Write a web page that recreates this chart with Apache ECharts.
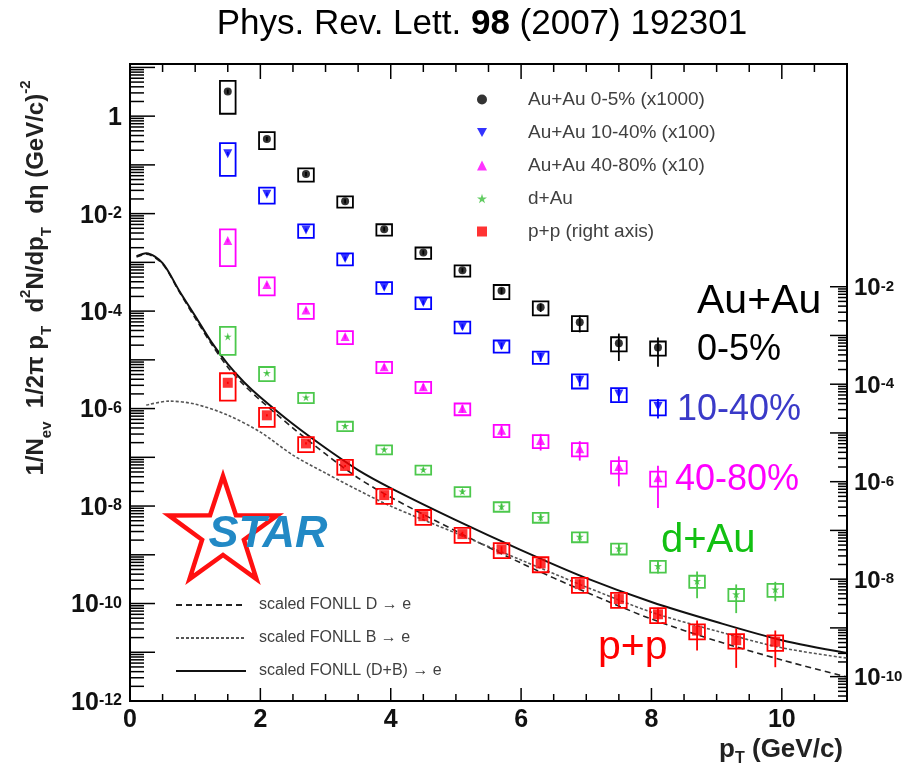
<!DOCTYPE html>
<html>
<head>
    <meta charset="UTF-8">
    <title>STAR non-photonic electron spectra</title>
    <script src="https://cdn.jsdelivr.net/npm/echarts@6.0.0/dist/echarts.min.js"></script>
    <style>
        body, html {
            margin: 0;
            padding: 0;
            background: #fff;
        }

        #chart {
            width: 909px;
            height: 770px;
        }
    </style>
</head>
<body>
<div id="chart"></div>
<script>
    // pT bin centres (GeV/c)
    var pt = [1.5, 2.1, 2.7, 3.3, 3.9, 4.5, 5.1, 5.7, 6.3, 6.9, 7.5, 8.1, 8.7, 9.3, 9.9];

    // left axis: Au+Au (scaled) and d+Au yields, with relative sys (box) and stat (bar) errors
    var auau0005 = [3.2, 0.34, 0.065, 0.018, 4.8e-3, 1.6e-3, 6.9e-4, 2.6e-4, 1.2e-4, 5.9e-5, 2.2e-5, 1.8e-5];
    var auau0005Sys = [0.65, 0.38, 0.3, 0.26, 0.26, 0.26, 0.26, 0.32, 0.32, 0.34, 0.32, 0.32];
    var auau0005Stat = [0.1, 0.1, 0.1, 0.1, 0.1, 0.1, 0.1, 0.15, 0.2, 0.38, 0.57, 0.6];

    var auau1040 = [0.17, 0.025, 4.6e-3, 1.2e-3, 3.1e-4, 1.5e-4, 4.8e-5, 1.95e-5, 1.15e-5, 3.8e-6, 2.0e-6, 1.1e-6];
    var auau1040Sys = [0.65, 0.36, 0.31, 0.28, 0.27, 0.27, 0.27, 0.28, 0.28, 0.32, 0.32, 0.34];
    var auau1040Stat = [0.08, 0.08, 0.08, 0.1, 0.1, 0.1, 0.12, 0.15, 0.2, 0.25, 0.3, 0.43];

    var auau4080 = [2.8e-3, 3.5e-4, 1.05e-4, 3.0e-5, 7.2e-6, 2.8e-6, 1.0e-6, 3.6e-7, 2.2e-7, 1.5e-7, 6.5e-8, 3.8e-8];
    var auau4080Sys = [0.7, 0.4, 0.34, 0.3, 0.26, 0.26, 0.27, 0.28, 0.3, 0.3, 0.29, 0.34];
    var auau4080Stat = [0.08, 0.08, 0.1, 0.1, 0.12, 0.15, 0.18, 0.25, 0.375, 0.43, 0.61, 0.76];

    var dau = [3.0e-5, 5.4e-6, 1.7e-6, 4.4e-7, 1.45e-7, 5.6e-8, 2.0e-8, 9.8e-9, 5.9e-9, 2.35e-9, 1.35e-9, 5.9e-10, 2.9e-10, 1.55e-10, 1.95e-10];
    var dauSys = [0.58, 0.32, 0.24, 0.22, 0.21, 0.21, 0.22, 0.22, 0.23, 0.23, 0.25, 0.27, 0.28, 0.28, 0.3];
    var dauStat = [0.05, 0.05, 0.05, 0.08, 0.08, 0.1, 0.12, 0.15, 0.18, 0.22, 0.25, 0.3, 0.56, 0.59, 0.43];

    // right axis: p+p
    var pp = [1.07e-4, 2.3e-5, 6.1e-6, 2.1e-6, 5.3e-7, 1.96e-7, 8.4e-8, 4.1e-8, 2.1e-8, 7.9e-9, 3.9e-9, 1.9e-9, 8.8e-10, 5.6e-10, 5.2e-10];
    var ppSys = [0.57, 0.42, 0.34, 0.34, 0.34, 0.34, 0.34, 0.34, 0.34, 0.34, 0.34, 0.34, 0.34, 0.33, 0.35];
    var ppStat = [0.05, 0.05, 0.05, 0.05, 0.1, 0.1, 0.12, 0.15, 0.2, 0.25, 0.3, 0.37, 0.61, 0.73, 0.7];

    // scaled FONLL curves (right axis)
    var fonllPt = [0.1, 0.25, 0.5, 0.75, 1.0, 1.25, 1.5, 1.75, 2.0, 2.5, 3.0, 3.5, 4.0, 5.0, 6.0, 7.0, 8.0, 9.0, 10.0, 11.0];
    var fonllDB = [0.0425, 0.0489, 0.0305, 8.5e-3, 2.5e-3, 7.3e-4, 2.58e-4, 1.1e-4, 5.4e-5, 1.52e-5, 4.9e-6, 1.73e-6, 7.4e-7, 1.63e-7, 3.95e-8, 1.05e-8, 3.4e-9, 1.32e-9, 5.6e-10, 3.05e-10];
    var fonllD = [0.0405, 0.0467, 0.0291, 8.1e-3, 2.27e-3, 6.65e-4, 2.24e-4, 9.6e-5, 4.7e-5, 1.26e-5, 3.7e-6, 1.19e-6, 4.8e-7, 9.7e-8, 2.14e-8, 5.4e-9, 1.52e-9, 5.4e-10, 2.2e-10, 9.8e-11];
    var fonllBPt = [0.25, 0.6, 1.0, 1.5, 2.0, 2.5, 3.0, 3.5, 4.0, 5.0, 6.0, 7.0, 8.0, 9.0, 10.0, 11.0];
    var fonllB = [3.72e-5, 4.5e-5, 3.9e-5, 2.32e-5, 1.04e-5, 3.5e-6, 1.5e-6, 6.7e-7, 3.15e-7, 8.8e-8, 2.47e-8, 6.9e-9, 2.1e-9, 8.6e-10, 3.9e-10, 2.4e-10];

    // axis labels
    var xLabels = [0, 2, 4, 6, 8, 10];
    var leftLabelExps = [-12, -10, -8, -6, -4, -2, 0];
    var rightLabelExps = [-10, -8, -6, -4, -2];

    var FONT = 'Liberation Sans, Arial, Helvetica, sans-serif';
    var xMin = 0, xMax = 11;
    var leftMin = 1e-12, leftMax = Math.pow(10, 1.07);
    var rightMin = Math.pow(10, -10.5), rightMax = Math.pow(10, 2.57);
    var boxHalf = 0.12;
    var starPath = 'path://M50,0 L61,35 L98,35 L68,57 L79,91 L50,70 L21,91 L32,57 L2,35 L39,35 Z';
    var downTri = 'path://M0,0 L20,0 L10,18 Z';

    var chart = echarts.init(document.getElementById('chart'), null, {renderer: 'canvas'});

    function pairs(xs, ys) {
        return ys.map(function (v, i) {
            return [xs[i], v];
        });
    }

    function powText(e) {
        return e === 0 ? '{b|1}' : '{b|10}{s|' + e + '}';
    }

    function powRich(size) {
        return {
            b: {fontSize: size, fontWeight: 'bold', fontFamily: FONT, fill: '#111', lineHeight: Math.round(size * 0.78)},
            s: {fontSize: Math.round(size * 0.64), fontWeight: 'bold', fontFamily: FONT, fill: '#111', verticalAlign: 'top', lineHeight: 11}
        };
    }

    function errorSeries(name, ys, sys, stat, color, yIndex) {
        var data = ys.map(function (v, i) {
            return [pt[i], v, sys[i], stat[i]];
        });
        return {
            type: 'custom',
            name: name + ' err',
            yAxisIndex: yIndex,
            z: 3,
            silent: true,
            data: data,
            renderItem: function (params, api) {
                var x = api.value(0), y = api.value(1), s = api.value(2), e = api.value(3);
                var p1 = api.coord([x - boxHalf, y * (1 + s)]);
                var p2 = api.coord([x + boxHalf, y * (1 - s)]);
                var b1 = api.coord([x, y * (1 + e)]);
                var b2 = api.coord([x, y * (1 - e)]);
                return {
                    type: 'group',
                    children: [
                        {
                            type: 'rect',
                            shape: {x: p1[0], y: p1[1], width: p2[0] - p1[0], height: p2[1] - p1[1]},
                            style: {fill: 'none', stroke: color, lineWidth: 1.8}
                        },
                        {
                            type: 'line',
                            shape: {x1: b1[0], y1: b1[1], x2: b2[0], y2: b2[1]},
                            style: {stroke: color, lineWidth: 1.8}
                        }
                    ]
                };
            }
        };
    }

    function markerSeries(name, ys, color, symbol, size, yIndex) {
        return {
            type: 'scatter',
            name: name,
            yAxisIndex: yIndex,
            z: 4,
            symbol: symbol,
            symbolSize: size,
            itemStyle: {color: color},
            data: pairs(pt, ys)
        };
    }

    // tick positions for the custom axes
    var leftTicks = [];
    for (var e = -12; e <= 1; e++) {
        for (var k = 1; k <= 9; k++) {
            var v = k * Math.pow(10, e);
            if (v <= leftMax) leftTicks.push([0, v, k, e]);
        }
    }
    var rightTicks = [];
    for (var e2 = -11; e2 <= -2; e2++) {
        for (var k2 = 1; k2 <= 9; k2++) {
            var v2 = k2 * Math.pow(10, e2);
            if (v2 >= rightMin && v2 <= 1.0001e-2) rightTicks.push([xMax, v2, k2, e2]);
        }
    }
    var xTicks = [];
    for (var xi = 0; xi <= 22; xi++) {
        xTicks.push([xi / 2, leftMin]);
    }

    var option = {
        animation: false,
        backgroundColor: '#fff',
        grid: {
            left: 130, right: 62, top: 64, bottom: 69,
            show: true, borderColor: '#000', borderWidth: 2, backgroundColor: 'transparent'
        },
        legend: [
            {
                orient: 'vertical',
                left: 472,
                top: 85,
                itemWidth: 10,
                itemHeight: 10,
                itemGap: 14,
                selectedMode: false,
                data: ['Au+Au 0-5% (x1000)', 'Au+Au 10-40% (x100)', 'Au+Au 40-80% (x10)', 'd+Au', 'p+p (right axis)'],
                textStyle: {fontSize: 19, fontFamily: FONT, color: '#404040', padding: [0, 0, 0, 36]}
            },
            {
                orient: 'vertical',
                left: 170,
                top: 592,
                itemWidth: 70,
                itemHeight: 14,
                itemGap: 17,
                selectedMode: false,
                itemStyle: {opacity: 0},
                data: ['scaled FONLL D \u2192 e', 'scaled FONLL B \u2192 e', 'scaled FONLL (D+B) \u2192 e'],
                textStyle: {fontSize: 16, fontFamily: FONT, color: '#404040', padding: [0, 0, 0, 8]}
            }
        ],
        xAxis: {
            type: 'value', min: xMin, max: xMax,
            axisLine: {show: false}, axisTick: {show: false}, axisLabel: {show: false}, splitLine: {show: false}
        },
        yAxis: [
            {
                type: 'log', logBase: 10, min: leftMin, max: leftMax,
                axisLine: {show: false}, axisTick: {show: false}, axisLabel: {show: false}, splitLine: {show: false}
            },
            {
                type: 'log', logBase: 10, min: rightMin, max: rightMax, position: 'right',
                axisLine: {show: false}, axisTick: {show: false}, axisLabel: {show: false}, splitLine: {show: false}
            }
        ],
        graphic: [
            {
                type: 'text', x: 482, y: 24, z: 11,
                style: {
                    text: '{n|Phys. Rev. Lett. }{b|98}{n| (2007) 192301}', align: 'center', verticalAlign: 'middle',
                    rich: {
                        n: {fontSize: 35, fontFamily: FONT, fill: '#000'},
                        b: {fontSize: 35, fontFamily: FONT, fontWeight: 'bold', fill: '#000'}
                    }
                }
            },
            {
                type: 'text', x: 36, y: 278, z: 11, rotation: Math.PI / 2,
                style: {
                    text: '{m|1/N}{d|ev}{m|  1/2\u03c0 p}{d|T}{m|  d}{u|2}{m|N/dp}{d|T}{m|  d\u03b7 (GeV/c)}{u|-2}',
                    align: 'center', verticalAlign: 'middle',
                    rich: {
                        m: {fontSize: 24, fontWeight: 'bold', fontFamily: FONT, fill: '#222', lineHeight: 36},
                        d: {fontSize: 15, fontWeight: 'bold', fontFamily: FONT, fill: '#222', verticalAlign: 'bottom', lineHeight: 17},
                        u: {fontSize: 15, fontWeight: 'bold', fontFamily: FONT, fill: '#222', verticalAlign: 'top', lineHeight: 17}
                    }
                }
            },
            {
                type: 'polygon',
                shape: {
                    points: (function () {
                        var pts = [], cx = 223, cy = 533, R = 57, r = 22;
                        for (var i = 0; i < 10; i++) {
                            var a = -Math.PI / 2 + i * Math.PI / 5;
                            var rr = i % 2 === 0 ? R : r;
                            pts.push([cx + rr * Math.cos(a), cy + rr * Math.sin(a)]);
                        }
                        return pts;
                    })()
                },
                style: {fill: 'none', stroke: '#ff1010', lineWidth: 4.5},
                z: 10
            },
            {
                type: 'text', x: 268, y: 535, z: 11,
                style: {
                    text: 'STAR', align: 'center', verticalAlign: 'middle',
                    font: 'italic bold 45px ' + FONT, fill: '#2289c5'
                }
            },
            {type: 'text', x: 697, y: 302, z: 11, style: {text: 'Au+Au', verticalAlign: 'middle', font: '41px ' + FONT, fill: '#000'}},
            {type: 'text', x: 697, y: 350, z: 11, style: {text: '0-5%', verticalAlign: 'middle', font: '36px ' + FONT, fill: '#000'}},
            {type: 'text', x: 677, y: 410, z: 11, style: {text: '10-40%', verticalAlign: 'middle', font: '36px ' + FONT, fill: '#3a3ac8'}},
            {type: 'text', x: 675, y: 480, z: 11, style: {text: '40-80%', verticalAlign: 'middle', font: '36px ' + FONT, fill: '#ff00ff'}},
            {type: 'text', x: 661, y: 541, z: 11, style: {text: 'd+Au', verticalAlign: 'middle', font: '40px ' + FONT, fill: '#12c012'}},
            {type: 'text', x: 598, y: 648, z: 11, style: {text: 'p+p', verticalAlign: 'middle', font: '41px ' + FONT, fill: '#ff0000'}},
            {
                type: 'text', x: 843, y: 750, z: 11,
                style: {
                    text: '{m|p}{t|T}{m| (GeV/c)}', align: 'right', verticalAlign: 'middle',
                    rich: {
                        m: {fontSize: 26, fontWeight: 'bold', fontFamily: FONT, fill: '#222', lineHeight: 34},
                        t: {fontSize: 16, fontWeight: 'bold', fontFamily: FONT, fill: '#222', verticalAlign: 'bottom', lineHeight: 16}
                    }
                }
            }
        ],
        series: [
            {
                type: 'line', name: 'scaled FONLL D \u2192 e', yAxisIndex: 1, z: 2,
                symbol: 'none', smooth: 0.3, data: pairs(fonllPt, fonllD),
                lineStyle: {color: '#222', width: 1.6, type: [6, 4]}, itemStyle: {color: '#222'}
            },
            {
                type: 'line', name: 'scaled FONLL B \u2192 e', yAxisIndex: 1, z: 2,
                symbol: 'none', smooth: 0.3, data: pairs(fonllBPt, fonllB),
                lineStyle: {color: '#555', width: 1.6, type: [3, 2]}, itemStyle: {color: '#555'}
            },
            {
                type: 'line', name: 'scaled FONLL (D+B) \u2192 e', yAxisIndex: 1, z: 2,
                symbol: 'none', smooth: 0.3, data: pairs(fonllPt, fonllDB),
                lineStyle: {color: '#111', width: 2}, itemStyle: {color: '#111'}
            },
            errorSeries('Au+Au 0-5%', auau0005, auau0005Sys, auau0005Stat, '#000', 0),
            errorSeries('Au+Au 10-40%', auau1040, auau1040Sys, auau1040Stat, '#0000ff', 0),
            errorSeries('Au+Au 40-80%', auau4080, auau4080Sys, auau4080Stat, '#ff00ff', 0),
            errorSeries('d+Au', dau, dauSys, dauStat, '#4cc84c', 0),
            errorSeries('p+p', pp, ppSys, ppStat, '#ff0000', 1),
            markerSeries('Au+Au 0-5% (x1000)', auau0005, '#000', 'circle', 8, 0),
            markerSeries('Au+Au 10-40% (x100)', auau1040, '#0000ff', downTri, 9, 0),
            markerSeries('Au+Au 40-80% (x10)', auau4080, '#ff00ff', 'triangle', 9, 0),
            markerSeries('d+Au', dau, '#3cbf3c', starPath, 8, 0),
            markerSeries('p+p (right axis)', pp, '#ff0000', 'rect', 10, 1),
            {
                // left axis ticks and labels
                type: 'custom', silent: true, yAxisIndex: 0, z: 5, data: leftTicks,
                renderItem: function (params, api) {
                    var v = api.value(1), k = api.value(2), ex = api.value(3);
                    var p = api.coord([xMin, v]);
                    var len = k === 1 ? 25 : 14;
                    var kids = [{
                        type: 'line', shape: {x1: p[0], y1: p[1], x2: p[0] + len, y2: p[1]},
                        style: {stroke: '#000', lineWidth: 1.5}
                    }];
                    if (k === 1 && leftLabelExps.indexOf(ex) >= 0) {
                        kids.push({
                            type: 'text', x: p[0] - 8, y: p[1] + 2,
                            style: {text: powText(ex), align: 'right', verticalAlign: 'middle', rich: powRich(25)}
                        });
                    }
                    return {type: 'group', children: kids};
                }
            },
            {
                // right axis ticks and labels
                type: 'custom', silent: true, yAxisIndex: 1, z: 5, data: rightTicks,
                renderItem: function (params, api) {
                    var v = api.value(1), k = api.value(2), ex = api.value(3);
                    var p = api.coord([xMax, v]);
                    var len = k === 1 ? 17 : 9;
                    var kids = [{
                        type: 'line', shape: {x1: p[0], y1: p[1], x2: p[0] - len, y2: p[1]},
                        style: {stroke: '#000', lineWidth: 1.5}
                    }];
                    if (k === 1 && rightLabelExps.indexOf(ex) >= 0) {
                        kids.push({
                            type: 'text', x: p[0] + 7, y: p[1] + 2,
                            style: {text: powText(ex), align: 'left', verticalAlign: 'middle', rich: powRich(24)}
                        });
                    }
                    return {type: 'group', children: kids};
                }
            },
            {
                // bottom / top ticks and x labels
                type: 'custom', silent: true, yAxisIndex: 0, z: 5, data: xTicks,
                renderItem: function (params, api) {
                    var x = api.value(0);
                    var pb = api.coord([x, leftMin]);
                    var pu = api.coord([x, leftMax]);
                    var major = xLabels.indexOf(x) >= 0;
                    var kids = [
                        {
                            type: 'line', shape: {x1: pb[0], y1: pb[1], x2: pb[0], y2: pb[1] - (major ? 13 : 7)},
                            style: {stroke: '#000', lineWidth: 1.5}
                        },
                        {
                            type: 'line', shape: {x1: pu[0], y1: pu[1], x2: pu[0], y2: pu[1] + (major ? 15 : 8)},
                            style: {stroke: '#000', lineWidth: 1.5}
                        }
                    ];
                    if (major) {
                        kids.push({
                            type: 'text', x: pb[0], y: pb[1] + 19,
                            style: {
                                text: String(x), align: 'center', verticalAlign: 'middle',
                                font: 'bold 25px ' + FONT, fill: '#111'
                            }
                        });
                    }
                    return {type: 'group', children: kids};
                }
            }
        ]
    };

    chart.setOption(option);
</script>
</body>
</html>
